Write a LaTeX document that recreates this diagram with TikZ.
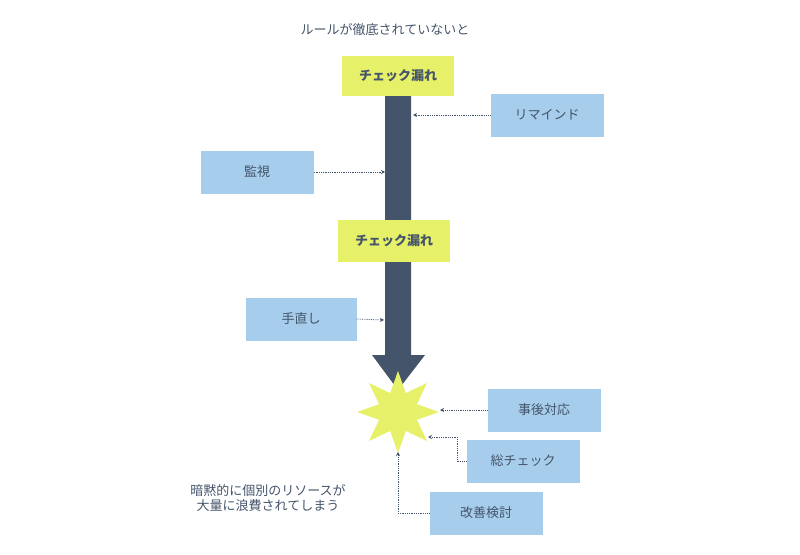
\documentclass[tikz,border=0pt]{standalone}
\usepackage{fontspec}
\newfontfamily\cjk{Noto Sans CJK JP}
\usetikzlibrary{shapes.geometric,shapes.misc,arrows.meta}
\definecolor{bx}{HTML}{A6CDEB}
\definecolor{yl}{HTML}{E6F068}
\definecolor{dk}{HTML}{44546A}
\begin{document}
\begin{tikzpicture}[x=1pt,y=-1pt,
 every node/.style={font=\cjk\fontsize{13}{15}\selectfont,text=dk},
 bbox/.style={fill=bx,minimum width=113pt,minimum height=43pt,inner sep=0pt},
 ybox/.style={fill=yl,minimum width=112pt,minimum height=40pt,inner sep=0pt,font=\cjk\bfseries\fontsize{13}{15}\selectfont},
 con/.style={dk,densely dotted,thick,-{Stealth[length=4pt,width=4pt]}}]
\useasboundingbox (0,0) rectangle (800,554);
\node[font=\cjk\fontsize{13}{15}\selectfont] (title) at (385,30) {ルールが徹底されていないと};
\fill[dk] (385,95) -- (411,95) -- (411,355) -- (425,355) -- (398,390) -- (372,355) -- (385,355) -- cycle;
\node[ybox] (y1) at (398,76) {チェック漏れ};
\node[ybox,minimum height=42pt] (y2) at (394,241) {チェック漏れ};
\node[star,star points=8,star point ratio=2,minimum size=82pt,fill=yl,inner sep=0pt] (st) at (398,412) {};
\node[bbox] (rm) at (547,115) {リマインド};
\node[bbox] (ks) at (257,172) {監視};
\node[bbox,minimum width=111pt] (tn) at (301,319) {手直し};
\node[bbox] (jg) at (544,410) {事後対応};
\node[bbox] (sc) at (523,461) {総チェック};
\node[bbox] (kz) at (486,513) {改善検討};
\coordinate (a1) at (413,115);
\coordinate (a2) at (385,172);
\coordinate (a3) at (384,320);
\coordinate (a4) at (440,410);
\coordinate (a5) at (428,437);
\coordinate (a6) at (398,452);
\draw[con] (rm.west) -- (a1);
\draw[con] (ks.east) -- (a2);
\draw[con] (tn.east) -- (a3);
\draw[con] (jg.west) -- (a4);
\draw[con] (sc.west) -- (457,461) -- (457,437) -- (a5);
\draw[con] (kz.west) -- (398,513) -- (a6);
\node[align=center] (msg) at (268,498) {暗黙的に個別のリソースが\\大量に浪費されてしまう};
\end{tikzpicture}
\end{document}
